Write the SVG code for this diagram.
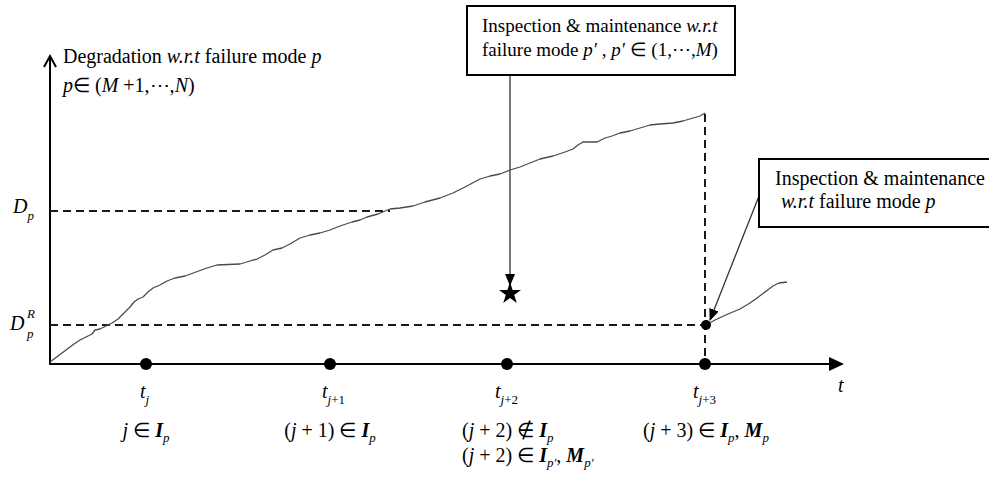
<svg xmlns="http://www.w3.org/2000/svg" width="989" height="488" viewBox="0 0 989 488">
<style>
.t{font-family:"Liberation Serif","Times New Roman",serif;font-size:20px;fill:#000}
.tb{font-family:"Liberation Serif","Times New Roman",serif;font-size:19px;fill:#000}
.i{font-style:italic}
.b{font-weight:bold;font-style:italic}
.s{font-size:13px}
.curve{fill:none;stroke:#4a4a4a;stroke-width:1.3;stroke-linejoin:round}
.dash{fill:none;stroke:#1a1a1a;stroke-width:2;stroke-dasharray:8,5}
.axis{stroke:#000;stroke-width:2;fill:none}
.box{fill:#fff;stroke:#000;stroke-width:2}
.conn{stroke:#333;stroke-width:1.3;fill:none}
.dot{fill:#000}
</style>
<defs>
<marker id="ah" markerWidth="12" markerHeight="12" refX="11" refY="6" orient="auto" markerUnits="userSpaceOnUse">
<path d="M0,1 L12,6 L0,11 z" fill="#000"/>
</marker>
</defs>

<g id="connectors">
<line class="axis" x1="50" y1="365" x2="50" y2="56"/>
<polyline class="axis" points="44,67 50,56 56,67"/>
<line class="axis" x1="49" y1="364" x2="832" y2="364"/>
<polygon points="829,357 844,364 829,371" fill="#000"/>
<line class="dash" x1="50" y1="211" x2="390" y2="211"/>
<line class="dash" x1="50" y1="325" x2="705" y2="325"/>
<line class="dash" x1="705" y1="114" x2="705" y2="364"/>
<line class="conn" x1="510" y1="75" x2="510" y2="285" marker-end="url(#ah)"/>
<line class="conn" x1="759" y1="196" x2="710" y2="320" marker-end="url(#ah)"/>
</g>

<g id="curves">
<polyline class="curve" points="50,362 58,356 66,350 74,344 80,340 86,337 92,334 95,330 100,329 106,326 112,323 118,319 124,313 130,307 134,302 138,299 143,297 148,292 153,288 160,285 167,281 175,278 185,276 196,272 207,268 217,265 228,264.5 240,264 250,261 257,259 265,255 273,250 282,248 290,244 300,238 310,235 320,233 330,230 340,226 352,222 360,220 367,217 378,214 390,209 400,208 413,206 425,202 440,198 453,193 465,187 480,179 490,176 500,174 510,170 520,167 530,163 540,159 553,156 565,152 573,149 578,145 583,142 590,142 597,142 605,138 612,136 620,133 630,131 640,128 650,125 660,124 673,123 683,121 693,118 700,116 705,113"/>
<polyline class="curve" points="706,325 715,320 728,314 740,309 750,303 757,298 765,292 773,286 779,283 787,282"/>
</g>

<g id="y-axis-label">
<text class="t" x="63" y="63">Degradation <tspan class="i">w.r.t</tspan> failure mode <tspan class="i">p</tspan></text>
<text class="t" x="63" y="92"><tspan class="i">p</tspan>∈ (<tspan class="i">M</tspan> +1,⋯,<tspan class="i">N</tspan>)</text>
</g>

<g id="Dp-label">
<text class="t i" x="13" y="213">D<tspan class="s" dy="7">p</tspan></text>
</g>
<g id="DpR-label">
<text class="t i" x="10" y="330">D<tspan class="s" x="27" y="318">R</tspan><tspan class="s" x="27" y="338">p</tspan></text>
</g>

<g id="box-top">
<rect class="box" x="467" y="6" width="268" height="69"/>
<text class="tb" x="482" y="32">Inspection &amp; maintenance <tspan class="i">w.r.t</tspan></text>
<text class="tb" x="482" y="56">failure mode <tspan class="i">p′</tspan> , <tspan class="i">p′</tspan> ∈ (1,⋯,<tspan class="i">M</tspan>)</text>
</g>

<g id="star">
<polygon fill="#000" points="510,282 512.6,290 521,290 514.2,294.9 516.8,302.9 510,298 503.2,302.9 505.8,294.9 499,290 507.4,290"/>
</g>

<g id="box-right">
<rect class="box" x="759" y="159" width="240" height="68"/>
<text class="t" x="775" y="185">Inspection &amp; maintenance</text>
<text class="t" x="781" y="208"><tspan class="i">w.r.t</tspan> failure mode <tspan class="i">p</tspan></text>
</g>

<g id="restore-dot"><circle class="dot" cx="706" cy="325" r="5"/></g>

<g id="t-j">
<circle class="dot" cx="146" cy="364" r="6"/>
<text class="t i" x="140" y="398">t<tspan class="s" dy="6">j</tspan></text>
<text class="t" x="146" y="437" text-anchor="middle"><tspan class="i">j</tspan> ∈ <tspan class="b">I</tspan><tspan class="s i" dy="5">p</tspan></text>
</g>
<g id="t-j1">
<circle class="dot" cx="330" cy="364" r="6"/>
<text class="t i" x="322" y="398">t<tspan class="s" dy="6" font-style="normal"><tspan class="i">j</tspan>+1</tspan></text>
<text class="t" x="330" y="437" text-anchor="middle">(<tspan class="i">j</tspan> + 1) ∈ <tspan class="b">I</tspan><tspan class="s i" dy="5">p</tspan></text>
</g>
<g id="t-j2">
<circle class="dot" cx="507" cy="364" r="6"/>
<text class="t i" x="495" y="398">t<tspan class="s" dy="6" font-style="normal"><tspan class="i">j</tspan>+2</tspan></text>
<text class="t" x="462" y="437">(<tspan class="i">j</tspan> + 2) ∉ <tspan class="b">I</tspan><tspan class="s i" dy="5">p</tspan></text>
<text class="t" x="462" y="462">(<tspan class="i">j</tspan> + 2) ∈ <tspan class="b">I</tspan><tspan class="s i" dy="5">p′</tspan><tspan dy="-5">, </tspan><tspan class="b">M</tspan><tspan class="s i" dy="5">p′</tspan></text>
</g>
<g id="t-j3">
<circle class="dot" cx="705" cy="364" r="6"/>
<text class="t i" x="693" y="398">t<tspan class="s" dy="6" font-style="normal"><tspan class="i">j</tspan>+3</tspan></text>
<text class="t" x="706" y="437" text-anchor="middle">(<tspan class="i">j</tspan> + 3) ∈ <tspan class="b">I</tspan><tspan class="s i" dy="5">p</tspan><tspan dy="-5">, </tspan><tspan class="b">M</tspan><tspan class="s i" dy="5">p</tspan></text>
</g>
<g id="t-axis-label">
<text class="t i" x="838" y="392">t</text>
</g>
</svg>
